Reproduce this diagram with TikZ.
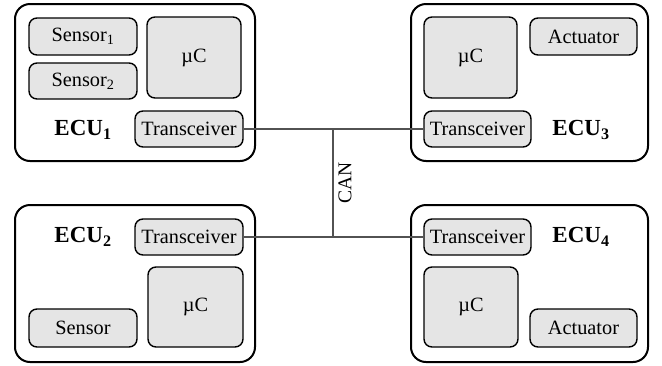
\documentclass[tikz,border=0pt]{standalone}
\usepackage{fontspec}
\setmainfont{Liberation Serif}
\begin{document}
\begin{tikzpicture}[x=1pt,y=-1pt,
  ecu/.style={draw=black,line width=2pt,rounded corners=15pt,fill=white,inner sep=0pt},
  part/.style={draw=black,line width=1.4pt,rounded corners=8pt,fill=black!10,inner sep=0pt,font=\fontsize{20.3}{22}\selectfont},
  ecuname/.style={inner sep=0pt,font=\fontsize{23}{25}\selectfont\bfseries},
  bus/.style={draw=black!68,line width=1.8pt}]
\useasboundingbox (0,0) rectangle (662,365);

% control units
\node[ecu,minimum width=240pt,minimum height=157pt] (ecu1) at (135,82.5) {};
\node[ecu,minimum width=237pt,minimum height=157pt] (ecu3) at (529.5,82.5) {};
\node[ecu,minimum width=240pt,minimum height=157pt] (ecu2) at (135,283.5) {};
\node[ecu,minimum width=237pt,minimum height=157pt] (ecu4) at (529.5,283.5) {};

% ECU 1
\node[part,minimum width=108pt,minimum height=37pt] (s11) at (83,36.5) {Sensor\textsubscript{1}};
\node[part,minimum width=108pt,minimum height=36pt] (s12) at (83,81) {Sensor\textsubscript{2}};
\node[part,minimum width=94pt,minimum height=81pt] (uc1) at (194,57.5) {µC};
\node[part,minimum width=108pt,minimum height=36pt] (tr1) at (189,129) {Transceiver};
\node[ecuname] (l1) at (83,130) {ECU\textsubscript{1}};

% ECU 3
\node[part,minimum width=93pt,minimum height=81pt] (uc3) at (470.5,57.5) {µC};
\node[part,minimum width=107pt,minimum height=37pt] (ac3) at (583.5,36.5) {Actuator};
\node[part,minimum width=107pt,minimum height=36pt] (tr3) at (477.5,129) {Transceiver};
\node[ecuname] (l3) at (581,130) {ECU\textsubscript{3}};

% ECU 2
\node[part,minimum width=108pt,minimum height=36pt] (tr2) at (189,237) {Transceiver};
\node[part,minimum width=95pt,minimum height=80pt] (uc2) at (195.5,307) {µC};
\node[part,minimum width=108pt,minimum height=38pt] (se2) at (83,328) {Sensor};
\node[ecuname] (l2) at (83,237) {ECU\textsubscript{2}};

% ECU 4
\node[part,minimum width=107pt,minimum height=36pt] (tr4) at (477.5,237) {Transceiver};
\node[part,minimum width=94pt,minimum height=80pt] (uc4) at (471,307) {µC};
\node[part,minimum width=107pt,minimum height=38pt] (ac4) at (583.5,328) {Actuator};
\node[ecuname] (l4) at (581,237) {ECU\textsubscript{4}};

% CAN bus
\coordinate (bt) at (333,129);
\coordinate (bb) at (333,237);
\draw[bus] (tr1.east) -- (bt) -- (tr3.west);
\draw[bus] (tr2.east) -- (bb) -- (tr4.west);
\draw[bus] (bt) -- (bb);
\node[rotate=90,inner sep=0pt,font=\fontsize{19.5}{21}\selectfont] (can) at (345,183) {CAN};
\end{tikzpicture}
\end{document}
